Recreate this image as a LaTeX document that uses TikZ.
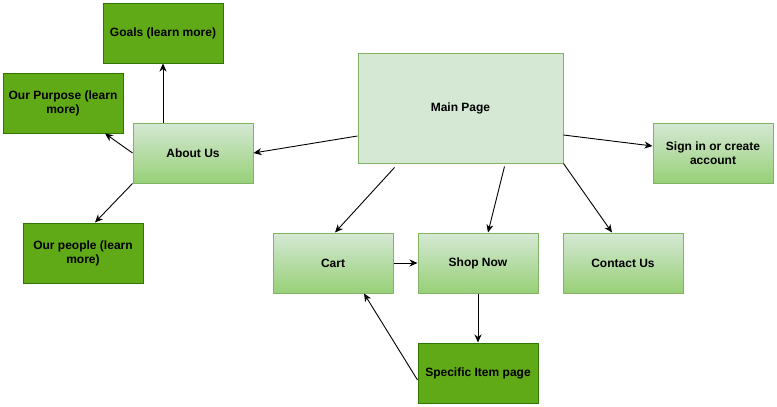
\documentclass[tikz,border=0pt]{standalone}
\usepackage{fontspec}
\setmainfont{Liberation Sans}
\usetikzlibrary{arrows.meta,calc}
\definecolor{darkfill}{HTML}{60A917}
\definecolor{darkline}{HTML}{2D7600}
\definecolor{paleg}{HTML}{D5E8D4}
\definecolor{midg}{HTML}{97D077}
\definecolor{lineg}{HTML}{82B366}
\tikzset{
  box/.style={rectangle, minimum width=120pt, minimum height=60pt, inner sep=2pt,
    align=center, font=\fontsize{12}{14}\selectfont\bfseries, line width=1pt},
  darkbox/.style={box, draw=darkline, fill=darkfill},
  gradbox/.style={box, draw=lineg, top color=paleg, bottom color=midg},
  mainbox/.style={box, draw=lineg, fill=paleg, minimum width=205pt, minimum height=110pt},
  link/.style={draw=black, line width=0.9pt, -{Stealth[length=8pt,width=7pt,inset=2.5pt]}}
}
\begin{document}
\begin{tikzpicture}[x=1pt,y=-1pt]
\useasboundingbox (0,0) rectangle (777,407);
% page nodes
\node[darkbox] (goals) at (163,33) {Goals (learn more)};
\node[darkbox] (purpose) at (63,103) {Our Purpose (learn\\more)};
\node[gradbox] (about) at (193,153) {About Us};
\node[darkbox] (people) at (83,253) {Our people (learn\\more)};
\node[mainbox] (main) at (460.5,108) {Main Page};
\node[gradbox] (sign) at (713,153) {Sign in or create\\account};
\node[gradbox] (cart) at (333,263) {Cart};
\node[gradbox] (shop) at (478,263) {Shop Now};
\node[gradbox] (contact) at (623,263) {Contact Us};
\node[darkbox] (item) at (478,373) {Specific Item page};
% connectors
\draw[link] ([yshift=-28pt]main.west) -- (about.east);
\draw[link] ([yshift=-27pt]main.east) -- ([yshift=7pt]sign.west);
\draw[link] (main.south east) -- ([xshift=-11pt]contact.north);
\draw[link] ([xshift=37pt,yshift=-4pt]main.south west) -- ([xshift=2pt]cart.north);
\draw[link] ([xshift=147pt,yshift=-3pt]main.south west) -- ([xshift=10pt]shop.north);
\draw[link] (cart.east) -- (shop.west);
\draw[link] (shop.south) -- (item.north);
\draw[link] ([yshift=-7pt]item.west) -- ([xshift=31pt]cart.south);
\draw[link] ([xshift=-30pt]about.north) -- (goals.south);
\draw[link] (about.west) -- ([xshift=42pt]purpose.south);
\draw[link] (about.south west) -- ([xshift=12pt]people.north);
\end{tikzpicture}
\end{document}
